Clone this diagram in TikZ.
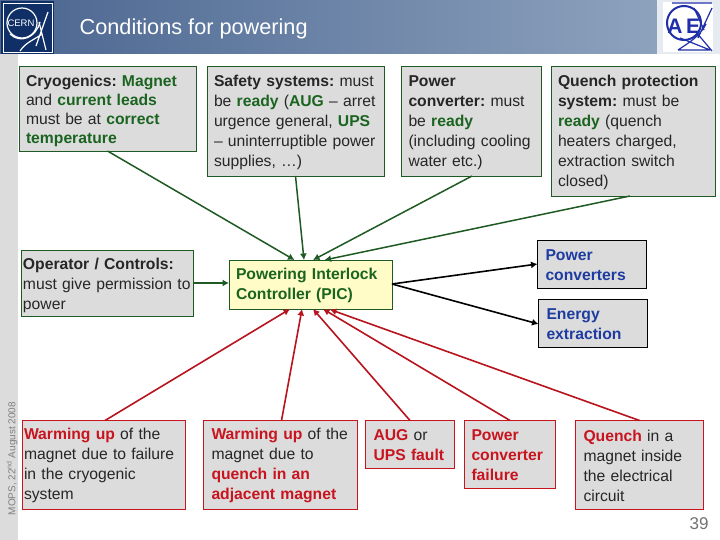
\documentclass[tikz,border=0pt]{standalone}
\usepackage{fontspec}
\setmainfont{Liberation Sans}
\usetikzlibrary{arrows.meta}
\definecolor{gtx}{HTML}{1A6420}
\definecolor{gln}{HTML}{1F5A24}
\definecolor{rtx}{HTML}{C8141E}
\definecolor{rln}{HTML}{B8141E}
\definecolor{btx}{HTML}{1E3CA0}
\definecolor{boxg}{HTML}{DCDCDC}
\definecolor{navy}{HTML}{0F2F66}
\definecolor{aef}{HTML}{1F2FA8}
\definecolor{headl}{HTML}{4A6590}
\definecolor{headr}{HTML}{8DA2BD}
\definecolor{headx}{HTML}{E6EBF1}
\newcommand{\gb}[1]{\textbf{\textcolor{gtx}{#1}}}
\newcommand{\rb}[1]{\textbf{\textcolor{rtx}{#1}}}
\newcommand{\dn}[1]{\rule{0pt}{#1}}
\frenchspacing
\tikzset{
 basebox/.style={rectangle,fill=boxg,anchor=north west,align=left,inner xsep=7pt,inner ysep=0pt,outer sep=0pt,line width=.9pt,
   font=\fontsize{15.7}{20}\selectfont,text=black!85},
 greenbox/.style={basebox,draw=gln},
 redbox/.style={basebox,draw=rtx,inner xsep=2pt},
 blackbox/.style={basebox,draw=black,text=btx,font=\fontsize{15.7}{20}\selectfont\bfseries},
 picbox/.style={basebox,draw=gln,fill=yellow!22,text=gtx,font=\fontsize{15.7}{20}\selectfont\bfseries},
 garrow/.style={draw=gln,line width=1.5pt,-{Latex[length=6.5pt,width=7pt]}},
 rarrow/.style={draw=rln,line width=1.6pt,-{Latex[length=6.5pt,width=7pt]}},
 karrow/.style={draw=black,line width=1.6pt,-{Latex[length=6.5pt,width=7pt]}},
 logoline/.style={draw=white,line width=1.2pt},
 aefline/.style={draw=aef,line width=1.2pt}
}
\begin{document}
\begin{tikzpicture}[x=1pt,y=-1pt]
\useasboundingbox (0,0) rectangle (720,540);
\fill[white] (0,0) rectangle (720,540);
% header and margin
\fill[boxg] (0,54) rectangle (18,540);
\shade[left color=headl,right color=headr] (0,0) rectangle (657,54);
\fill[headx] (657,0) rectangle (720,54);
% CERN logo
\fill[navy] (1,1) rectangle (54,54);
\draw[white,line width=.8pt] (3,3) rectangle (52,52);
\draw[logoline] (22,23) circle (15);
\draw[logoline] (10,34) .. controls (20,44) and (36,38) .. (40,22);
\draw[logoline] (48,12) -- (36,46) (39,22) -- (46,50) (20,51) .. controls (26,42) and (34,40) .. (42,34);
\node[text=white,font=\fontsize{9.5}{9.5}\selectfont,inner sep=0pt] (cernlogo) at (21,23) {CERN};
% AEF logo
\fill[white] (663,2) rectangle (713,52);
\draw[aefline,line width=2pt] (684,23) circle (17);
\draw[aefline] (672,3) -- (712,3) (712,8) -- (698,38) (694,8) -- (704,30) (678,50) .. controls (690,42) and (700,36) .. (706,24) (680,38) -- (710,50) (696,32) -- (712,51) (678,50) -- (710,50);
\node[text=aef,font=\fontsize{21}{21}\selectfont\bfseries,inner sep=0pt] (aefa) at (675,26) {A};
\node[text=aef,font=\fontsize{21}{21}\selectfont\bfseries,inner sep=0pt] (aefe) at (693,26) {E};
% title
\node[text=white,anchor=west,inner sep=0pt,font=\fontsize{21.7}{24}\selectfont] (title) at (79.5,28.5) {Conditions for powering};
\node[text=black!50,rotate=90,anchor=west,inner sep=0pt,font=\fontsize{10}{10}\selectfont] (date) at (12,515.5) {MOPS, 22\textsuperscript{nd} August 2008};
\node[text=black!55,inner sep=0pt,font=\fontsize{17}{17}\selectfont] (pageno) at (699,524) {39};
% upper boxes
\node[greenbox,font=\fontsize{15.7}{19}\selectfont,text width=163pt,minimum height=85pt] (cryo) at (19,66) {\dn{15.5pt}\textbf{Cryogenics:} \gb{Magnet}\\ and \gb{current leads}\\ must be at \gb{correct}\\ \gb{temperature}};
\node[greenbox,text width=163pt,minimum height=110pt] (safety) at (207,66) {\dn{15pt}\textbf{Safety systems:} must\\ be \gb{ready} (\gb{AUG} -- arret\\ urgence general, \gb{UPS}\\ -- uninterruptible power\\ supplies, \dots)};
\node[greenbox,inner xsep=7.5pt,text width=125pt,minimum height=110pt] (conv) at (401,66) {\dn{15pt}\textbf{Power}\\ \textbf{converter:} must\\ be \gb{ready}\\ (including cooling\\ water etc.)};
\node[greenbox,text width=150pt,minimum height=130pt] (qps) at (551,66) {\dn{15pt}\textbf{Quench protection}\\ \textbf{system:} must be\\ \gb{ready} (quench\\ heaters charged,\\ extraction switch\\ closed)};
% middle boxes
\node[greenbox,inner xsep=1.5pt,text width=169pt,minimum height=66pt] (oper) at (21.5,250) {\dn{15.5pt}\textbf{Operator / Controls:}\\ must give permission to\\ power};
\node[picbox,inner xsep=7pt,text width=149pt,minimum height=49pt] (pic) at (229,260) {\dn{13.5pt}Powering Interlock\\ Controller (PIC)};
\node[blackbox,inner xsep=8pt,text width=93pt,minimum height=48pt] (pc) at (537.5,240) {\dn{13pt}Power\\ converters};
\node[blackbox,inner xsep=8pt,text width=93pt,minimum height=48pt] (ee) at (538.5,299.5) {\dn{13pt}Energy\\ extraction};
% lower boxes
\node[redbox,text width=159pt,minimum height=89pt] (w1) at (22,420.5) {\dn{13pt}\rb{Warming up} of the\\ magnet due to failure\\ in the cryogenic\\ system};
\node[redbox,inner xsep=8pt,text width=138pt,minimum height=89pt] (w2) at (203.5,420.5) {\dn{13pt}\rb{Warming up} of the\\ magnet due to\\ \rb{quench in an}\\ \rb{adjacent magnet}};
\node[redbox,inner xsep=8pt,text width=73pt,minimum height=48pt] (aug) at (365.5,420.5) {\dn{13pt}\rb{AUG} or\\ \rb{UPS fault}};
\node[redbox,inner xsep=7pt,text width=77pt,minimum height=68pt] (pcf) at (464.5,420.5) {\dn{13pt}\rb{Power}\\ \rb{converter}\\ \rb{failure}};
\node[redbox,inner xsep=8pt,text width=112pt,minimum height=89pt] (qm) at (575.5,420.5) {\dn{13pt}\rb{Quench} in a\\ magnet inside\\ the electrical\\ circuit};
% connectors
\draw[garrow] (cryo.south) -- ([xshift=-16pt]pic.north);
\draw[garrow] (safety.south) -- ([xshift=-6.5pt]pic.north);
\draw[garrow] ([xshift=1pt]conv.south) -- ([xshift=2.5pt]pic.north);
\draw[garrow] ([xshift=-3pt]qps.south) -- ([xshift=14pt]pic.north);
\draw[garrow] (oper.east) -- (oper.east -| pic.west);
\draw[karrow] ([yshift=.5pt]pic.east) -- ([yshift=.0pt]pc.west);
\draw[karrow] ([yshift=.5pt]pic.east) -- ([yshift=-.5pt]ee.west);
\draw[rarrow] ([xshift=1.5pt]w1.north) -- ([xshift=-20.5pt]pic.south);
\draw[rarrow] ([xshift=1pt]w2.north) -- ([xshift=-8.5pt]pic.south);
\draw[rarrow] (aug.north) -- ([xshift=2.5pt]pic.south);
\draw[rarrow] (pcf.north) -- ([xshift=12.5pt]pic.south);
\draw[rarrow] (qm.north) -- ([xshift=19.5pt,yshift=-.5pt]pic.south);
\end{tikzpicture}
\end{document}
